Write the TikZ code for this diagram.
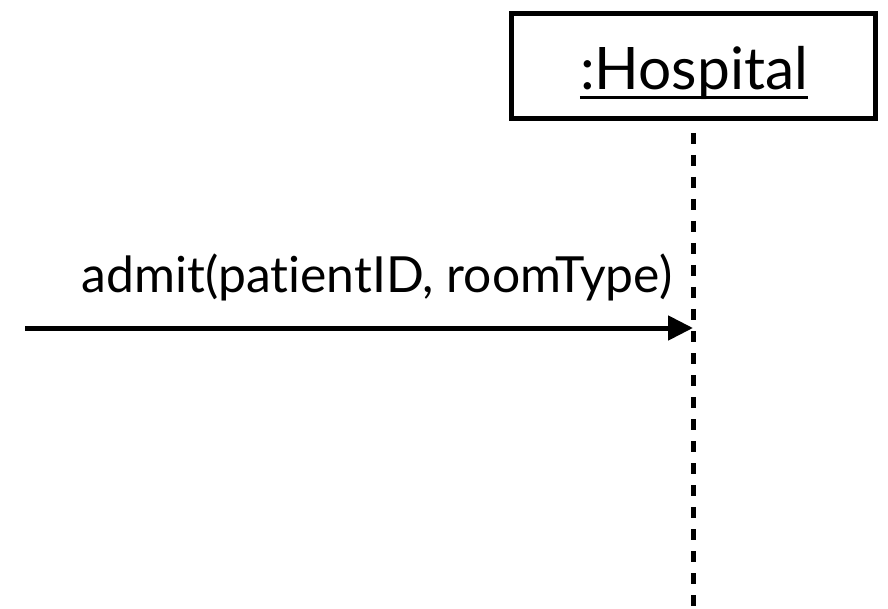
\documentclass[tikz,border=0pt]{standalone}
\usepackage{fontspec}
\setmainfont{Lato}[Ligatures={NoCommon}]
\usetikzlibrary{arrows.meta}
\tikzset{
  objbox/.style={draw, line width=5pt, minimum width=364pt, minimum height=105pt, inner sep=0pt},
  lbl/.style={inner sep=0pt, anchor=base},
  lifeline/.style={line width=5pt, dash pattern=on 11pt off 11pt},
  msg/.style={line width=5pt, -{Triangle[length=25pt, width=24pt]}}
}
\begin{document}
\begin{tikzpicture}[x=1pt, y=-1pt]
\useasboundingbox (0,0) rectangle (888,609);
\node[objbox] (box) at (693,66.5) {};
\node[lbl] (hosp) at (694,90) {\resizebox{228pt}{!}{\fontsize{60}{60}\selectfont :Hospital}};
\draw[line width=3pt] ([yshift=-8pt]hosp.base west) -- ([yshift=-8pt]hosp.base east);
\coordinate (lifetop) at (693,133);
\coordinate (lifebot) at (693,612);
\draw[lifeline] (lifetop) -- (lifebot);
\coordinate (src) at (25,328);
\coordinate (tgt) at (693,328);
\draw[msg] (src) -- (tgt);
\node[lbl] (admit) at (377,293) {\resizebox{590pt}{!}{\fontsize{45}{45}\selectfont admit(patientID, roomType)}};
\end{tikzpicture}
\end{document}
